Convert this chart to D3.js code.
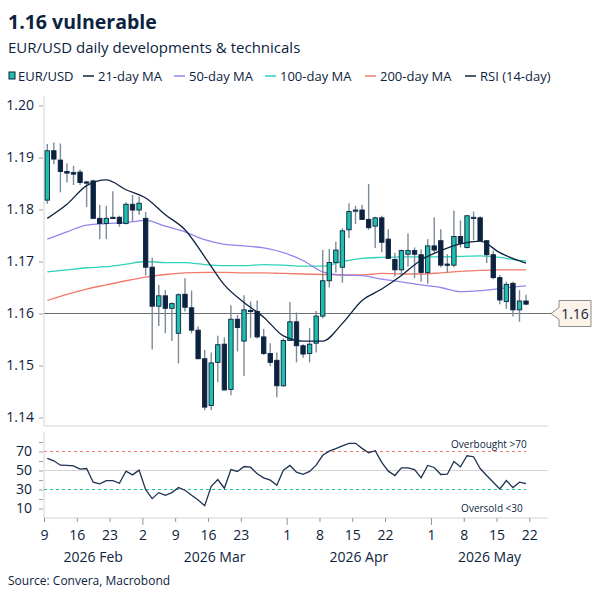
<!DOCTYPE html>
<html>
<head>
<meta charset="utf-8">
<script src="https://cdn.jsdelivr.net/npm/d3@7"></script>
<style>
  body { margin: 0; background: #fff; }
  svg text { font-family: "Open Sans", sans-serif; fill: #0c2340; }
</style>
</head>
<body>
<svg width="600" height="600"></svg>
<script>
// EUR/USD daily candles, first session Mon 9 Feb 2026, weekdays only
var startDay = "2026-02-09";
var endDay = "2026-05-27"; // right edge of the plot

var opens = [1.1818,1.1913,1.1895,1.1873,1.1871,1.1872,1.1853,1.1855,1.1783,1.1773,
  1.1785,1.1785,1.1773,1.1810,1.1799,1.1783,1.1689,1.1614,1.1634,1.1610,
  1.1562,1.1637,1.1611,1.1568,1.1513,1.1423,1.1506,1.1541,1.1454,1.1589,
  1.1547,1.1606,1.1604,1.1555,1.1523,1.1510,1.1461,1.1548,1.1584,1.1538,
  1.1523,1.1543,1.1595,1.1663,1.1698,1.1689,1.1761,1.1797,1.1799,1.1781,
  1.1768,1.1784,1.1743,1.1704,1.1684,1.1714,1.1721,1.1713,1.1679,1.1730,
  1.1740,1.1695,1.1693,1.1748,1.1727,1.1784,1.1784,1.1740,1.1713,1.1669,
  1.1623,1.1658,1.1607,1.1624];
var highs = [1.1926,1.1929,1.1927,1.1889,1.1884,1.1877,1.1855,1.1857,1.1809,1.1807,
  1.1835,1.1788,1.1814,1.1828,1.1825,1.1795,1.1707,1.1655,1.1645,1.1621,
  1.1639,1.1668,1.1644,1.1575,1.1530,1.1525,1.1557,1.1554,1.1616,1.1597,
  1.1635,1.1623,1.1625,1.1570,1.1543,1.1525,1.1552,1.1622,1.1602,1.1541,
  1.1572,1.1605,1.1722,1.1724,1.1738,1.1764,1.1812,1.1807,1.1809,1.1849,
  1.1786,1.1788,1.1762,1.1717,1.1723,1.1754,1.1727,1.1723,1.1743,1.1785,
  1.1762,1.1714,1.1798,1.1779,1.1789,1.1796,1.1787,1.1741,1.1721,1.1674,
  1.1661,1.1661,1.1645,1.1636];
var lows = [1.1811,1.1887,1.1833,1.1852,1.1847,1.1847,1.1805,1.1782,1.1743,1.1743,
  1.1782,1.1767,1.1771,1.1777,1.1790,1.1673,1.1531,1.1576,1.1562,1.1547,
  1.1504,1.1604,1.1562,1.1512,1.1414,1.1414,1.1468,1.1452,1.1443,1.1527,
  1.1480,1.1553,1.1552,1.1520,1.1499,1.1439,1.1459,1.1547,1.1506,1.1515,
  1.1506,1.1525,1.1591,1.1650,1.1679,1.1659,1.1745,1.1772,1.1780,1.1761,
  1.1726,1.1718,1.1705,1.1671,1.1674,1.1690,1.1668,1.1661,1.1657,1.1717,
  1.1689,1.1679,1.1689,1.1727,1.1725,1.1741,1.1738,1.1697,1.1666,1.1618,
  1.1609,1.1594,1.1584,1.1616];
var closes = [1.1913,1.1897,1.1873,1.1870,1.1868,1.1852,1.1852,1.1783,1.1773,1.1783,
  1.1784,1.1773,1.1810,1.1799,1.1812,1.1689,1.1614,1.1634,1.1610,1.1619,
  1.1636,1.1612,1.1568,1.1513,1.1420,1.1505,1.1540,1.1453,1.1589,1.1573,
  1.1607,1.1604,1.1555,1.1523,1.1506,1.1461,1.1548,1.1584,1.1538,1.1522,
  1.1541,1.1595,1.1663,1.1698,1.1722,1.1759,1.1796,1.1799,1.1781,1.1765,
  1.1784,1.1737,1.1706,1.1684,1.1721,1.1721,1.1714,1.1679,1.1730,1.1722,
  1.1693,1.1693,1.1748,1.1735,1.1788,1.1785,1.1740,1.1713,1.1669,1.1626,
  1.1656,1.1607,1.1624,1.1618];

var rsi = [62.7,60.2,55.6,55.3,54.9,51.4,52.1,37.7,35.9,39.4,
  39.4,36.6,49.3,45.4,50.4,29.9,20.4,26.7,23.9,26.7,
  32.0,29.2,24.0,19.0,13.0,33.4,40.5,31.3,51.0,49.0,
  54.2,53.5,46.5,42.2,39.8,34.5,50.4,55.3,48.2,46.0,
  49.0,55.6,66.0,70.4,73.0,76.0,78.6,78.6,73.3,68.7,
  70.8,58.5,49.3,44.7,52.8,52.8,51.0,42.2,55.3,53.2,
  45.8,46.1,59.5,53.9,65.5,64.5,52.1,44.7,37.7,30.6,
  39.4,32.0,37.7,36.2];

// moving averages, read every third session
var maSessions = [0,3,6,9,12,15,18,21,24,27,30,33,36,39,42,45,48,51,54,57,60,63,66,69,72,73];
var ma21 = [1.1783,1.1810,1.1846,1.1857,1.1838,1.1822,1.1790,1.1761,1.1709,1.1655,1.1621,1.1593,1.1557,
  1.1547,1.1547,1.1581,1.1625,1.1647,1.1673,1.1703,1.1721,1.1734,1.1739,1.1717,1.1701,1.1697];
var ma50 = [1.1743,1.1757,1.1770,1.1773,1.1775,1.1779,1.1768,1.1757,1.1742,1.1733,1.1730,1.1726,1.1717,
  1.1702,1.1680,1.1674,1.1673,1.1666,1.1661,1.1655,1.1650,1.1642,1.1644,1.1648,1.1652,1.1653];
var ma100 = [1.1680,1.1684,1.1688,1.1690,1.1695,1.1700,1.1698,1.1698,1.1694,1.1692,1.1692,1.1694,1.1693,
  1.1691,1.1691,1.1700,1.1706,1.1708,1.1709,1.1709,1.1709,1.1710,1.1711,1.1708,1.1702,1.1701];
var ma200 = [1.1625,1.1637,1.1647,1.1655,1.1663,1.1670,1.1675,1.1678,1.1679,1.1679,1.1678,1.1678,1.1677,
  1.1676,1.1675,1.1674,1.1674,1.1677,1.1676,1.1676,1.1678,1.1681,1.1683,1.1684,1.1684,1.1684];

var priceTicks = [1.14, 1.15, 1.16, 1.17, 1.18, 1.19, 1.20];
var rsiTicks = [10, 20, 30, 40, 50, 60, 70, 80];
var rsiLabels = [10, 30, 50, 70];
var dayTicks = ["2026-02-09","2026-02-16","2026-02-23","2026-03-02","2026-03-09","2026-03-16","2026-03-23",
  "2026-04-01","2026-04-08","2026-04-15","2026-04-22","2026-05-01","2026-05-08","2026-05-15","2026-05-22"];
var monthNames = ["2026 Feb","2026 Mar","2026 Apr","2026 May"];
var monthStarts = ["2026-02-09","2026-03-02","2026-04-01","2026-05-01","2026-05-27"];
var refLevel = 1.16;

var navy = "#0c2340", teal = "#1fbfae", purple = "#9384ee", aqua = "#2fd3bb", salmon = "#f27b6b";

var parse = d3.timeParse("%Y-%m-%d");
var d0 = parse(startDay);
function session(s) {
  // count of weekdays between first session and date s
  return d3.timeDays(d0, parse(s)).filter(function(d) { return d.getDay() % 6 !== 0; }).length;
}

var svg = d3.select("svg");

var x = d3.scaleLinear().domain([0, session(endDay)]).range([44, 549]);
var y = d3.scaleLinear().domain([1.14, 1.20]).range([417.5, 105.5]);
var yr = d3.scaleLinear().domain([0, 90]).range([518, 432.5]);
var pTop = 96, pBot = 426, rTop = 432, rBot = 518, xR = 548;

// titles
svg.append("text").attr("x", 8).attr("y", 29).style("font-size", "19.5px").style("font-weight", "bold").text("1.16 vulnerable");
svg.append("text").attr("x", 8).attr("y", 53).style("font-size", "15px").text("EUR/USD daily developments & technicals");
svg.append("text").attr("x", 8).attr("y", 585).style("font-size", "12px").text("Source: Convera, Macrobond");

// legend
var legend = [
  {name: "EUR/USD", color: teal, box: true, x: 8},
  {name: "21-day MA", color: navy, x: 83},
  {name: "50-day MA", color: purple, x: 174},
  {name: "100-day MA", color: aqua, x: 265},
  {name: "200-day MA", color: salmon, x: 365},
  {name: "RSI (14-day)", color: navy, x: 465}
];
var lg = svg.selectAll("g.leg").data(legend).enter().append("g").attr("class", "leg")
  .attr("transform", function(d) { return "translate(" + d.x + ",76)"; });
lg.filter(function(d) { return d.box; }).append("rect")
  .attr("x", 1).attr("y", -4).attr("width", 6).attr("height", 7)
  .attr("fill", teal).attr("stroke", navy).attr("stroke-width", 1);
lg.filter(function(d) { return !d.box; }).append("line")
  .attr("x1", 0).attr("x2", 11).attr("y1", 0).attr("y2", 0)
  .attr("stroke", function(d) { return d.color; }).attr("stroke-width", 1.5);
lg.append("text").attr("x", function(d) { return d.box ? 10 : 15; }).attr("y", 4.5)
  .style("font-size", "13px").text(function(d) { return d.name; });

// axes frame lines
svg.append("line").attr("x1", 44).attr("x2", 44).attr("y1", pTop).attr("y2", pBot).attr("stroke", "#d4d4d4");
svg.append("line").attr("x1", 44).attr("x2", xR).attr("y1", pBot).attr("y2", pBot).attr("stroke", "#d4d4d4");
svg.append("line").attr("x1", 44).attr("x2", 44).attr("y1", rTop).attr("y2", rBot).attr("stroke", "#d4d4d4");
svg.append("line").attr("x1", 44).attr("x2", xR).attr("y1", yr(50)).attr("y2", yr(50)).attr("stroke", "#d4d4d4");
svg.append("line").attr("x1", 44).attr("x2", xR).attr("y1", rBot).attr("y2", rBot).attr("stroke", "#d4d4d4");

// price axis
var ya = svg.append("g").attr("transform", "translate(43,0)")
  .call(d3.axisLeft(y).tickValues(priceTicks).tickSize(4).tickPadding(5).tickFormat(d3.format(".2f")));
ya.select(".domain").remove();
ya.selectAll("line").attr("stroke", "#9aa3ad");
ya.selectAll("text").style("font-size", "14px").attr("fill", navy);

// rsi axis
var ra = svg.append("g").attr("transform", "translate(43,0)")
  .call(d3.axisLeft(yr).tickValues(rsiTicks).tickSize(4).tickPadding(7)
    .tickFormat(function(d) { return rsiLabels.indexOf(d) >= 0 ? d : ""; }));
ra.select(".domain").remove();
ra.selectAll("line").attr("stroke", "#9aa3ad");
ra.selectAll("text").style("font-size", "14px").attr("fill", navy);

// date axis
var tickPos = dayTicks.map(session);
var xa = svg.append("g").attr("transform", "translate(0," + rBot + ")")
  .call(d3.axisBottom(x).tickValues(tickPos).tickSize(4).tickPadding(8)
    .tickFormat(function(d, i) { return parse(dayTicks[i]).getDate(); }));
xa.select(".domain").remove();
xa.selectAll("line").attr("stroke", "#8a949e")
  .attr("y2", function(d, i) { return monthStarts.indexOf(dayTicks[i]) > 0 ? 7 : 4; });
xa.selectAll("text").style("font-size", "14px").attr("fill", navy);

svg.selectAll("text.month").data(monthNames).enter().append("text").attr("class", "month")
  .attr("x", function(d, i) { return (x(session(monthStarts[i])) + Math.min(x(session(monthStarts[i + 1])), xR)) / 2; })
  .attr("y", 562).attr("text-anchor", "middle").style("font-size", "14px").text(function(d) { return d; });

// moving averages
function maLine(vals, color) {
  var line = d3.line().curve(d3.curveMonotoneX)
    .x(function(d, i) { return x(maSessions[i] + 0.5); })
    .y(function(d) { return y(d); });
  svg.append("path").datum(vals).attr("d", line).attr("fill", "none")
    .attr("stroke", color).attr("stroke-width", 1.3);
}
maLine(ma200, salmon);
maLine(ma100, aqua);
maLine(ma50, purple);

// reference level 1.16
svg.append("line").attr("x1", 44).attr("x2", 551).attr("y1", y(refLevel)).attr("y2", y(refLevel))
  .attr("stroke", "#6e6e6e").attr("stroke-width", 1);

// candles
var candles = closes.map(function(c, i) {
  return {i: i, o: opens[i], h: highs[i], l: lows[i], c: c};
});
var cg = svg.selectAll("g.candle").data(candles).enter().append("g").attr("class", "candle");
cg.append("line")
  .attr("x1", function(d) { return x(d.i + 0.5); }).attr("x2", function(d) { return x(d.i + 0.5); })
  .attr("y1", function(d) { return y(d.h); }).attr("y2", function(d) { return y(d.l); })
  .attr("stroke", "#7d8a98").attr("stroke-width", 1.4);
cg.append("rect")
  .attr("x", function(d) { return x(d.i + 0.5) - 2.2; }).attr("width", 4.4)
  .attr("y", function(d) { return y(Math.max(d.o, d.c)); })
  .attr("height", function(d) { return Math.max(1.2, Math.abs(y(d.o) - y(d.c))); })
  .attr("fill", function(d) { return d.c >= d.o ? teal : navy; })
  .attr("stroke", navy).attr("stroke-width", 0.9);

maLine(ma21, navy);

// callout for 1.16
var cy = y(refLevel);
svg.append("path")
  .attr("d", "M551," + cy + " L559," + (cy - 6) + " L559," + (cy - 13) + " L591," + (cy - 13) +
    " L591," + (cy + 13) + " L559," + (cy + 13) + " L559," + (cy + 6) + " Z")
  .attr("fill", "#fdf3e8").attr("stroke", "#8c8c8c").attr("stroke-width", 1);
svg.append("text").attr("x", 575).attr("y", cy + 5).attr("text-anchor", "middle")
  .style("font-size", "14px").text(d3.format(".2f")(refLevel));

// rsi reference lines
svg.append("line").attr("x1", 44).attr("x2", x(73.5)).attr("y1", yr(70)).attr("y2", yr(70))
  .attr("stroke", salmon).attr("stroke-dasharray", "3,3");
svg.append("line").attr("x1", 44).attr("x2", x(73.5)).attr("y1", yr(30)).attr("y2", yr(30))
  .attr("stroke", "#1fbf9e").attr("stroke-dasharray", "3,3");
svg.append("text").attr("x", x(73.6)).attr("y", yr(70) - 4).attr("text-anchor", "end")
  .style("font-size", "10px").text("Overbought >70");
svg.append("text").attr("x", x(73)).attr("y", yr(10) + 3).attr("text-anchor", "end")
  .style("font-size", "10px").text("Oversold <30");

// rsi line
svg.append("path").datum(rsi)
  .attr("d", d3.line().x(function(d, i) { return x(i + 0.5); }).y(function(d) { return yr(d); }))
  .attr("fill", "none").attr("stroke", "#1d3350").attr("stroke-width", 1.3);
</script>
</body>
</html>
